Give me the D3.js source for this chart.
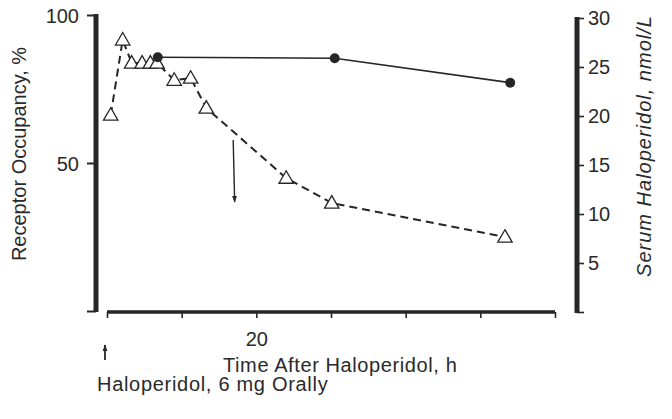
<!DOCTYPE html>
<html>
<head>
<meta charset="utf-8">
<script src="https://cdn.jsdelivr.net/npm/d3@7"></script>
<style>
  html, body { margin: 0; padding: 0; background: #fff; }
  svg { display: block; }
  text { font-family: "Liberation Sans", Arial, Helvetica, sans-serif; fill: #2a2a2a; }
</style>
</head>
<body>
<svg id="chart" width="672" height="419"></svg>
<script>
// ---- Data ----
const occHours   = [0.5, 2.1, 3.3, 4.7, 5.8, 6.7, 9.0, 11.2, 13.3, 24.0, 30.1, 53.3];
const occValues  = [66.2, 91.6, 83.8, 83.8, 83.8, 83.8, 78.0, 78.7, 68.6, 44.9, 36.5, 25.0];
const serumHours = [6.8, 30.5, 54.0];
const serumValues = [26.0, 25.9, 23.4];
const xTicks = [0, 10, 20, 30, 40, 50, 60];
const xTickLabels = ["", "", "20", "", "", "", ""];
const leftTicks = [0, 50, 100];
const leftTickLabels = ["", "50", "100"];
const rightTicks = [0, 5, 10, 15, 20, 25, 30];
const rightTickLabels = ["", "5", "10", "15", "20", "25", "30"];
const arrowFrom = {h: 16.9, occ: 57.8};
const arrowTo   = {h: 17.1, occ: 36.8};

// ---- Scales ----
const svg = d3.select("#chart");
const x = d3.scaleLinear().domain([0, 60]).range([107, 555]);
const yL = d3.scaleLinear().domain([0, 100]).range([311, 15]);
const yR = d3.scaleLinear().domain([0, 30]).range([312, 18]);
const ink = "#262626";
const FONT = "Liberation Sans, Arial, sans-serif";

svg.append("defs").append("marker")
  .attr("id", "ah").attr("viewBox", "0 0 10 10").attr("refX", 9).attr("refY", 5)
  .attr("markerWidth", 7).attr("markerHeight", 7).attr("orient", "auto-start-reverse")
  .attr("markerUnits", "userSpaceOnUse")
  .append("path").attr("d", "M0,1.5 L10,5 L0,8.5 Z").attr("fill", ink);

// ---- Left axis ----
const gL = svg.append("g").attr("transform", "translate(96,0)")
  .call(d3.axisLeft(yL).tickValues(leftTicks).tickSize(9).tickPadding(8)
    .tickFormat((d, i) => leftTickLabels[i]));
gL.select(".domain").remove();
gL.append("line").attr("x1", 0).attr("x2", 0).attr("y1", yL(100) - 1).attr("y2", yL(0) + 1)
  .attr("stroke", ink).attr("stroke-width", 5);
gL.selectAll(".tick line").attr("stroke", ink).attr("stroke-width", 2);
gL.selectAll(".tick text").attr("font-size", 20).attr("fill", "#2a2a2a")
  .attr("font-family", FONT).attr("dy", "0.38em");

// ---- Right axis ----
const gR = svg.append("g").attr("transform", "translate(577,0)")
  .call(d3.axisRight(yR).tickValues(rightTicks).tickSize(7).tickPadding(4)
    .tickFormat((d, i) => rightTickLabels[i]));
gR.select(".domain").remove();
gR.append("line").attr("x1", 0).attr("x2", 0).attr("y1", yR(30) - 1).attr("y2", yR(0) + 1)
  .attr("stroke", ink).attr("stroke-width", 5);
gR.selectAll(".tick line").attr("stroke", ink).attr("stroke-width", 1.6);
gR.selectAll(".tick text").attr("font-size", 20).attr("fill", "#2a2a2a")
  .attr("font-family", FONT);

// ---- X axis ----
const gX = svg.append("g").attr("transform", "translate(0,312)")
  .call(d3.axisBottom(x).tickValues(xTicks).tickSize(6).tickPadding(14)
    .tickFormat((d, i) => xTickLabels[i]));
gX.select(".domain").remove();
gX.append("line").attr("x1", x(0)).attr("x2", x(60)).attr("y1", 0).attr("y2", 0)
  .attr("stroke", ink).attr("stroke-width", 3.5);
gX.selectAll(".tick line").attr("stroke", ink).attr("stroke-width", 1.6);
gX.selectAll(".tick text").attr("font-size", 20).attr("fill", "#2a2a2a")
  .attr("font-family", FONT);

// ---- Serum line (solid, filled circles) ----
const serum = serumHours.map((h, i) => ({h, v: serumValues[i]}));
svg.append("path").datum(serum)
  .attr("d", d3.line().x(d => x(d.h)).y(d => yR(d.v)))
  .attr("fill", "none").attr("stroke", ink).attr("stroke-width", 1.6);

// ---- Occupancy line (dashed, open triangles) ----
const occ = occHours.map((h, i) => ({h, v: occValues[i]}));
svg.append("path").datum(occ)
  .attr("d", d3.line().x(d => x(d.h)).y(d => yL(d.v)))
  .attr("fill", "none").attr("stroke", ink).attr("stroke-width", 2)
  .attr("stroke-dasharray", "8,5");

const tri = d3.symbol().type(d3.symbolTriangle).size(90);
svg.append("g").selectAll("path").data(occ).join("path")
  .attr("d", tri)
  .attr("transform", d => `translate(${x(d.h)},${yL(d.v) + 1})`)
  .attr("fill", "#fff").attr("stroke", ink).attr("stroke-width", 1.3);

svg.append("g").selectAll("circle").data(serum).join("circle")
  .attr("cx", d => x(d.h)).attr("cy", d => yR(d.v)).attr("r", 5)
  .attr("fill", ink);

// ---- Annotation arrow in plot ----
svg.append("line")
  .attr("x1", x(arrowFrom.h)).attr("y1", yL(arrowFrom.occ))
  .attr("x2", x(arrowTo.h)).attr("y2", yL(arrowTo.occ))
  .attr("stroke", ink).attr("stroke-width", 1.4).attr("marker-end", "url(#ah)");

// ---- Dose arrow under x axis ----
svg.append("line")
  .attr("x1", x(0) - 2).attr("y1", 360).attr("x2", x(0) - 2).attr("y2", 345)
  .attr("stroke", ink).attr("stroke-width", 1.8).attr("marker-end", "url(#ah)");

// ---- Titles ----
svg.append("text").attr("x", 223).attr("y", 372).attr("font-size", 20)
  .attr("letter-spacing", 0.6)
  .text("Time After Haloperidol, h");
svg.append("text").attr("x", 97).attr("y", 391).attr("font-size", 20)
  .attr("letter-spacing", 0.7)
  .text("Haloperidol, 6 mg Orally");
svg.append("text")
  .attr("transform", "translate(26,154) rotate(-90)")
  .attr("text-anchor", "middle").attr("font-size", 20)
  .text("Receptor Occupancy, %");
svg.append("text")
  .attr("transform", "translate(651,146) rotate(-90)")
  .attr("text-anchor", "middle").attr("font-size", 20).attr("font-style", "italic")
  .attr("letter-spacing", 1.0)
  .text("Serum Haloperidol, nmol/L");
</script>
</body>
</html>
